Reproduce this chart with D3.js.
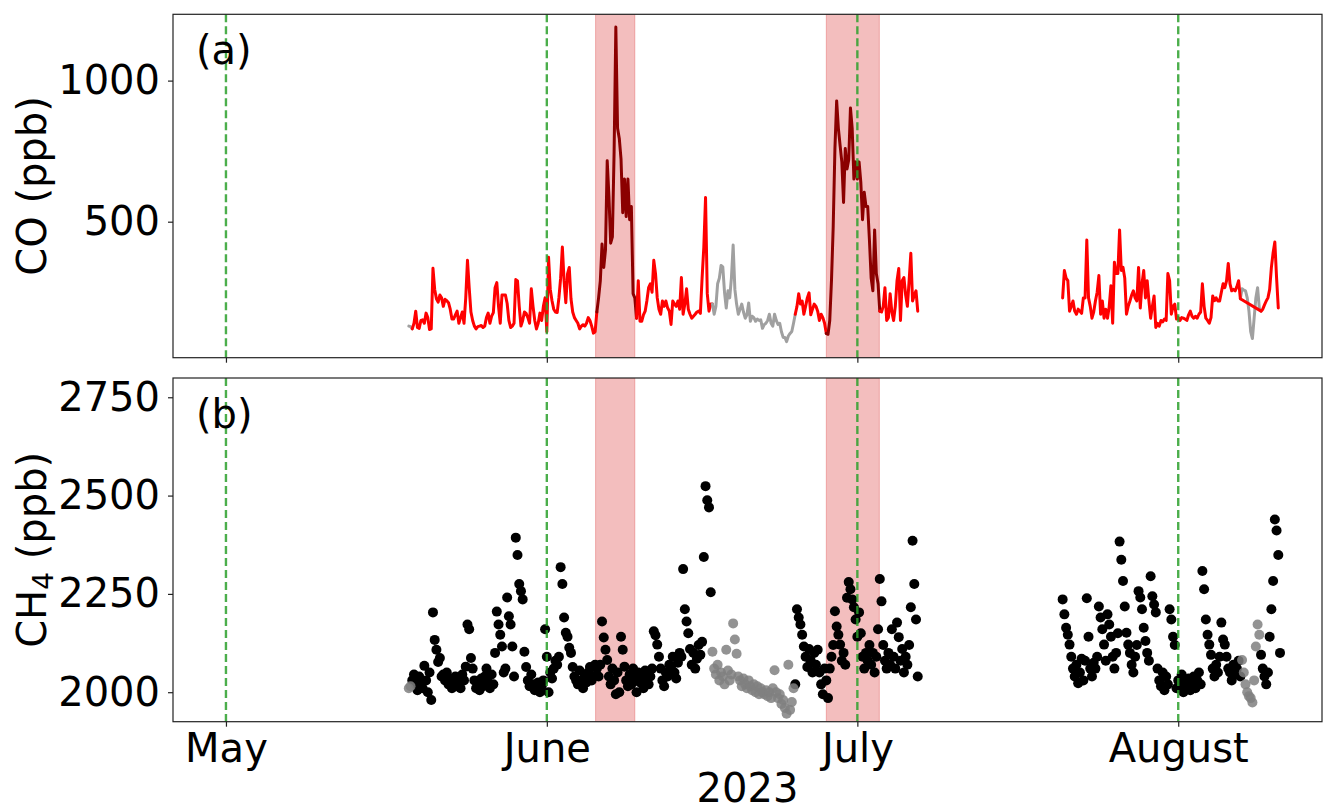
<!DOCTYPE html>
<meta charset="utf-8">
<style>
  html, body { margin:0; background:#fff; }
  svg { display:block; font-family:"DejaVu Sans", sans-serif; }
</style>
<svg width="1323" height="811"></svg>
<script src="https://cdn.jsdelivr.net/npm/d3@7"></script>
<script>

// readings every 4 hours, two measurement periods
var stepHours = 4;
var segmentStarts = ["2023-05-18T16:00Z", "2023-07-20T20:00Z"];

var coValues1 = [
  130, 128,
  120, 140, 183, 125, 122, 150,   // May 19
  152, 140, 176, 160, 118, 120,
  335, 260, 227, 215, 240, 230,
  200, 225, 220, 213, 190, 155,
  155, 170, 183, 140, 160, 180,
  140, 230, 363, 266, 180, 150,
  130, 120, 128, 130, 132, 125,
  130, 160, 176, 140, 165, 178,
  266, 284, 200, 140, 240, 240,
  240, 210, 150, 125, 130, 140,
  295, 290, 200, 130, 150, 180,
  175, 160, 140, 262, 200, 150,
  120, 140, 176, 150, 200, 230,   // May 31
  110, 374, 260, 220, 190, 180,   // Jun 1
  178, 230, 300, 410, 291, 213,
  315, 338, 227, 180, 160, 150,
  140, 120, 130, 135, 130, 140,
  160, 150, 130, 105, 110, 180,
  230, 290, 421, 338, 400, 716,
  590, 424, 446, 748, 1190, 831,
  795, 723, 532, 651, 518, 651,
  507, 554, 245, 230, 158, 291,
  147, 147, 170, 183, 220, 266,
  280, 250, 363, 316, 230, 190,
  172, 219, 200, 219, 195, 183,
  136, 219, 208, 200, 219, 190,
  302, 172, 208, 262, 190, 172,
  158, 165, 172, 180, 183, 175,
  300, 410, 586, 245, 183, 208,
  208, 172, 200, 280, 300, 345,
  340, 250, 194, 255, 230, 300,
  417, 260, 208, 172, 190, 208,
  180, 158, 170, 212, 147, 165,
  160, 147, 155, 150, 152, 122,
  135, 140, 150, 172, 140, 130,
  172, 150, 136, 140, 110, 90,
  90, 75, 95, 104, 111, 140,
  172, 200, 245, 208, 219, 172,
  200, 230, 248, 170, 190, 208,
  200, 183, 150, 172, 160, 140,
  104, 101, 150, 291, 482, 759,
  928, 831, 770, 712, 568, 759,
  687, 720, 903, 831, 651, 712,   // Jun 30
  651, 712, 640, 507, 604, 554,   // Jul 1
  554, 435, 300, 255, 471, 316,
  280, 183, 180, 200, 266, 150,
  160, 245, 180, 150, 200, 291,
  334, 150, 291, 302, 240, 200,
  290, 388, 219, 240, 255, 183
];

var coValues2 = [
  230,
  327, 300, 291, 183, 200, 219,   // Jul 21
  183, 172, 190, 183, 175, 230,
  230, 435, 230, 200, 158, 180,
  219, 250, 309, 172, 219, 158,
  190, 158, 200, 273, 140, 356,
  316, 316, 471, 327, 338, 300,
  172, 200, 219, 240, 255, 230,
  219, 338, 194, 280, 327, 230,
  291, 220, 158, 200, 237, 125,
  140, 130, 150, 145, 155, 150,
  316, 291, 172, 200, 208, 155,
  160, 150, 160, 158, 155, 150,   // Aug 1
  170, 183, 165, 158, 165, 158,
  172, 180, 280, 200, 158, 150,
  140, 160, 237, 220, 230, 219,
  219, 250, 280, 266, 290, 352,
  280, 255, 260, 255, 270, 291,
  227, 262, 258, 255, 230, 183,
  110, 86, 158, 230, 266, 194,
  183, 190, 205, 219, 230, 260,
  338, 390, 428, 302, 194
];

var ch4Values1 = [
  2010, 2015,
  2030, 2045, 2020, 2005, 2040, 2025,   // May 19
  2010, 2067, 2030, 2000, 2050, 1980,
  2203, 2133, 2108, 2077, 2087, 2040,
  2045, 2030, 2050, 2020, 2035, 2010,
  2025, 2040, 2015, 2030, 2010, 2045,
  2030, 2065, 2172, 2160, 2087, 2060,
  2030, 2010, 2025, 2005, 2035, 2015,
  2040, 2060, 2025, 2010, 2045, 2020,
  2100, 2205, 2172, 2146, 2116, 2050,
  2060, 2241, 2193, 2172, 2116, 2040,
  2393, 2349, 2275, 2257, 2236, 2103,
  2064, 2030, 2015, 2045, 2020, 2005,
  2010, 2025, 2000, 2015, 2030, 2160,   // May 31
  2090, 2000, 2050, 2035, 2060, 2080,   // Jun 1
  2070, 2090, 2318, 2275, 2190, 2151,
  2141, 2113, 2100, 2064, 2040, 2030,
  2020, 2055, 2030, 2010, 2045, 2025,
  2050, 2064, 2030, 2040, 2070, 2060,
  2040, 2070, 2180, 2139, 2108, 2082,
  2040, 2020, 2060, 2030, 1995, 2050,
  2000, 2141, 2108, 2065, 2030, 2015,
  2045, 2020, 2060, 2035, 2000, 2050,
  2025, 2040, 2010, 2055, 2030, 2020,
  2040, 2060, 2155, 2145, 2121, 2090,
  2060, 2030, 2015, 2050, 2040, 2070,
  2065, 2090, 2050, 2035, 2075, 2100,
  2090, 2313, 2211, 2180, 2150, 2110,
  2070, 2100, 2060, 2085, 2120, 2095,
  2128, 2344, 2524, 2488, 2470, 2254,
  2103, 2060, 2045, 2070, 2030, 2050,
  2040, 2020, 2108, 2055, 2030, 2045,
  2175, 2134, 2098, 2040, 2030, 2015,
  2035, 2020, 2010, 2030, 2015, 2005,
  2020, 2000, 2015, 1995, 2010, 2000,
  1995, 2005, 1990, 2000, 1985, 2010,
  2056, 2000, 1985, 1995, 1970, 1980,
  1960, 1945, 2070, 1955, 1975, 2010,
  2020, 2211, 2190, 2172, 2146, 2116,
  2090, 2064, 2110, 2080, 2050, 2100,
  2070, 2108, 2050, 2020, 1995, 2060,
  2030, 1985, 2060, 2090, 2120, 2206,
  2167, 2146, 2121, 2080, 2100, 2070,
  2240, 2280, 2262, 2236, 2216, 2185,   // Jun 30
  2141, 2203, 2150, 2090, 2060, 2100,   // Jul 1
  2080, 2120, 2070, 2100, 2050, 2090,
  2160, 2288, 2231, 2120, 2080, 2060,
  2100, 2070, 2160, 2090, 2060, 2177,
  2140, 2080, 2110, 2050, 2090, 2070,
  2120, 2216, 2385, 2275, 2185, 2040
];

var ch4Values2 = [
  2236,
  2198, 2164, 2146, 2121, 2090, 2060,   // Jul 21
  2040, 2070, 2023, 2050, 2085, 2030,
  2080, 2239, 2141, 2060, 2040, 2075,
  2060, 2090, 2218, 2190, 2160, 2121,
  2080, 2198, 2172, 2141, 2090, 2060,
  2100, 2150, 2383, 2337, 2283, 2218,
  2151, 2121, 2100, 2070, 2050, 2090,
  2120, 2257, 2241, 2211, 2164, 2130,
  2100, 2080, 2295, 2244, 2223, 2203,
  2060, 2030, 2015, 2050, 2005, 2040,
  2020, 2211, 2185, 2141, 2120, 2010,
  2030, 2010, 2045, 2000, 2025, 2015,   // Aug 1
  2035, 2005, 2020, 2040, 2010, 2030,
  2050, 2020, 2308, 2262, 2185, 2146,
  2121, 2095, 2060, 2040, 2070, 2050,
  2090, 2177, 2134, 2121, 2090, 2060,
  2050, 2030, 2070, 2045, 2060, 2080,
  2040, 2082, 2050, 2020, 2000, 1990,
  1985, 1974, 2030, 2116, 2172, 2146,
  2095, 2060, 2040, 2020, 2050, 2141,
  2211, 2283, 2439, 2411, 2349, 2100
];

// quality-flagged periods (drawn grey) and fire-smoke periods (shaded)
var flaggedPeriods = [
  ["2023-05-18T16:00Z", "2023-05-18T20:00Z"],
  ["2023-06-17T00:00Z", "2023-06-24T20:00Z"],
  ["2023-08-07T04:00Z", "2023-08-08T20:00Z"]
];
var firePeriods = [
  ["2023-06-05T17:00Z", "2023-06-09T12:00Z"],
  ["2023-06-28T00:00Z", "2023-07-03T03:00Z"]
];

var monthDates = ["2023-05-01T00:00Z", "2023-06-01T00:00Z", "2023-07-01T00:00Z", "2023-08-01T00:00Z"];
var monthLabels = ["May", "June", "July", "August"];
var coTicks = [500, 1000];
var ch4Ticks = [2000, 2250, 2500, 2750];

// ---------------------------------------------------------------

var svg = d3.select("svg");
var left = 173, right = 1322;
var top1 = 14.3, bot1 = 357.7, top2 = 378, bot2 = 721.7;
var fs = 40;

var x = d3.scaleUtc()
    .domain([new Date("2023-04-25T21:13Z"), new Date("2023-08-14T21:21Z")])
    .range([left, right]);
var yCO = d3.scaleLinear().domain([18, 1235]).range([bot1, top1]);
var yCH4 = d3.scaleLinear().domain([1925, 2799]).range([bot2, top2]);

function toSeries(start, values) {
  var t0 = new Date(start).getTime();
  return values.map(function(v, i) { return { t: new Date(t0 + i * stepHours * 3600e3), v: v }; });
}
function inPeriods(t, periods) {
  return periods.some(function(p) { return t >= new Date(p[0]) && t <= new Date(p[1]); });
}
function status(d) {
  if (inPeriods(d.t, flaggedPeriods)) return "flag";
  if (inPeriods(d.t, firePeriods)) return "fire";
  return "ok";
}
var lineColor = { ok: "#ff0000", fire: "#8b0000", flag: "#a0a0a0" };

svg.append("clipPath").attr("id", "c1").append("rect")
    .attr("x", left).attr("y", top1).attr("width", right - left).attr("height", bot1 - top1);
svg.append("clipPath").attr("id", "c2").append("rect")
    .attr("x", left).attr("y", top2).attr("width", right - left).attr("height", bot2 - top2);

var panels = [
  { y: yCO, top: top1, bot: bot1, clip: "url(#c1)", ticks: coTicks },
  { y: yCH4, top: top2, bot: bot2, clip: "url(#c2)", ticks: ch4Ticks }
];

panels.forEach(function(p) {
  var g = svg.append("g").attr("clip-path", p.clip);
  g.selectAll("rect.fire").data(firePeriods).enter().append("rect")
      .attr("x", function(d) { return x(new Date(d[0])); })
      .attr("width", function(d) { return x(new Date(d[1])) - x(new Date(d[0])); })
      .attr("y", p.top).attr("height", p.bot - p.top)
      .attr("fill", "#d62728").attr("fill-opacity", 0.3)
      .attr("stroke", "#d62728").attr("stroke-opacity", 0.3);
  p.g = g;
});

// CO lines
var line = d3.line().x(function(d) { return x(d.t); }).y(function(d) { return yCO(d.v); });
var coG = panels[0].g.append("g").attr("fill", "none").attr("stroke-width", 3)
    .attr("stroke-linejoin", "round").attr("stroke-linecap", "round");

function runs(pts) {
  var out = [];
  pts.forEach(function(d) {
    var s = status(d);
    if (!out.length || out[out.length - 1].s !== s) out.push({ s: s, pts: [] });
    out[out.length - 1].pts.push(d);
  });
  return out;
}

function drawCO(pts, bridgeFlagged) {
  var rs = runs(pts);
  if (!bridgeFlagged) {
    rs.forEach(function(r, k) {
      var p = r.pts.slice();
      if (rs[k + 1]) p.push(rs[k + 1].pts[0]);
      coG.append("path").attr("d", line(p)).attr("stroke", lineColor[r.s]);
    });
  } else {
    rs.forEach(function(r, k) {
      if (r.s !== "flag") return;
      var p = r.pts.slice();
      if (rs[k - 1]) p.unshift(rs[k - 1].pts[rs[k - 1].pts.length - 1]);
      if (rs[k + 1]) p.push(rs[k + 1].pts[0]);
      coG.append("path").attr("d", line(p)).attr("stroke", lineColor.flag);
    });
    runs(pts.filter(function(d) { return status(d) !== "flag"; })).forEach(function(r, k, all) {
      var p = r.pts.slice();
      if (all[k + 1]) p.push(all[k + 1].pts[0]);
      coG.append("path").attr("d", line(p)).attr("stroke", lineColor[r.s]);
    });
  }
}
drawCO(toSeries(segmentStarts[0], coValues1), false);
drawCO(toSeries(segmentStarts[1], coValues2), true);

// CH4 scatter
var ch4 = toSeries(segmentStarts[0], ch4Values1).concat(toSeries(segmentStarts[1], ch4Values2));
var ch4G = panels[1].g.append("g");
ch4G.selectAll("circle.ok").data(ch4.filter(function(d) { return status(d) !== "flag"; }))
  .enter().append("circle")
    .attr("cx", function(d) { return x(d.t); })
    .attr("cy", function(d) { return yCH4(d.v); })
    .attr("r", 5).attr("fill", "#000");
ch4G.selectAll("circle.flag").data(ch4.filter(function(d) { return status(d) === "flag"; }))
  .enter().append("circle")
    .attr("cx", function(d) { return x(d.t); })
    .attr("cy", function(d) { return yCH4(d.v); })
    .attr("r", 5).attr("fill", "#808080").attr("fill-opacity", 0.85);

// month dividers, axes, frames
panels.forEach(function(p, i) {
  p.g.selectAll("line.month").data(monthDates).enter().append("line")
      .attr("x1", function(d) { return x(new Date(d)); })
      .attr("x2", function(d) { return x(new Date(d)); })
      .attr("y1", p.top).attr("y2", p.bot)
      .attr("stroke", "#2ca02c").attr("stroke-opacity", 0.85)
      .attr("stroke-width", 2.4).attr("stroke-dasharray", "8,4");

  var ya = svg.append("g").attr("transform", "translate(" + left + ",0)")
      .call(d3.axisLeft(p.y).tickValues(p.ticks).tickSize(5).tickPadding(8).tickFormat(d3.format("d")));
  var xa = svg.append("g").attr("transform", "translate(0," + p.bot + ")")
      .call(d3.axisBottom(x).tickValues(monthDates.map(function(d) { return new Date(d); }))
        .tickSize(5).tickPadding(7)
        .tickFormat(i === 1 ? function(d, k) { return monthLabels[k]; } : function() { return ""; }));
  [ya, xa].forEach(function(a) {
    a.select(".domain").remove();
    a.selectAll("line").attr("stroke", "#222").attr("stroke-width", 1.2);
    a.selectAll("text").attr("font-size", fs).attr("fill", "#000")
        .attr("font-family", "'DejaVu Sans', sans-serif");
  });

  svg.append("rect").attr("x", left).attr("y", p.top)
      .attr("width", right - left).attr("height", p.bot - p.top)
      .attr("fill", "none").attr("stroke", "#222").attr("stroke-width", 1.2);

  svg.append("text").attr("x", 196).attr("y", p.top + 50)
      .attr("font-size", fs).text(i === 0 ? "(a)" : "(b)");
});

// axis titles
svg.append("text")
    .attr("transform", "translate(46," + (top1 + bot1) / 2 + ") rotate(-90)")
    .attr("text-anchor", "middle").attr("font-size", fs)
    .text("CO (ppb)");
var ch4Label = svg.append("text")
    .attr("transform", "translate(46," + (top2 + bot2) / 2 + ") rotate(-90)")
    .attr("text-anchor", "middle").attr("font-size", fs);
ch4Label.append("tspan").text("CH");
ch4Label.append("tspan").attr("font-size", 28).attr("dy", 7).text("4");
ch4Label.append("tspan").attr("dy", -7).text(" (ppb)");

svg.append("text").attr("x", (left + right) / 2).attr("y", 802)
    .attr("text-anchor", "middle").attr("font-size", fs).text("2023");

</script>
